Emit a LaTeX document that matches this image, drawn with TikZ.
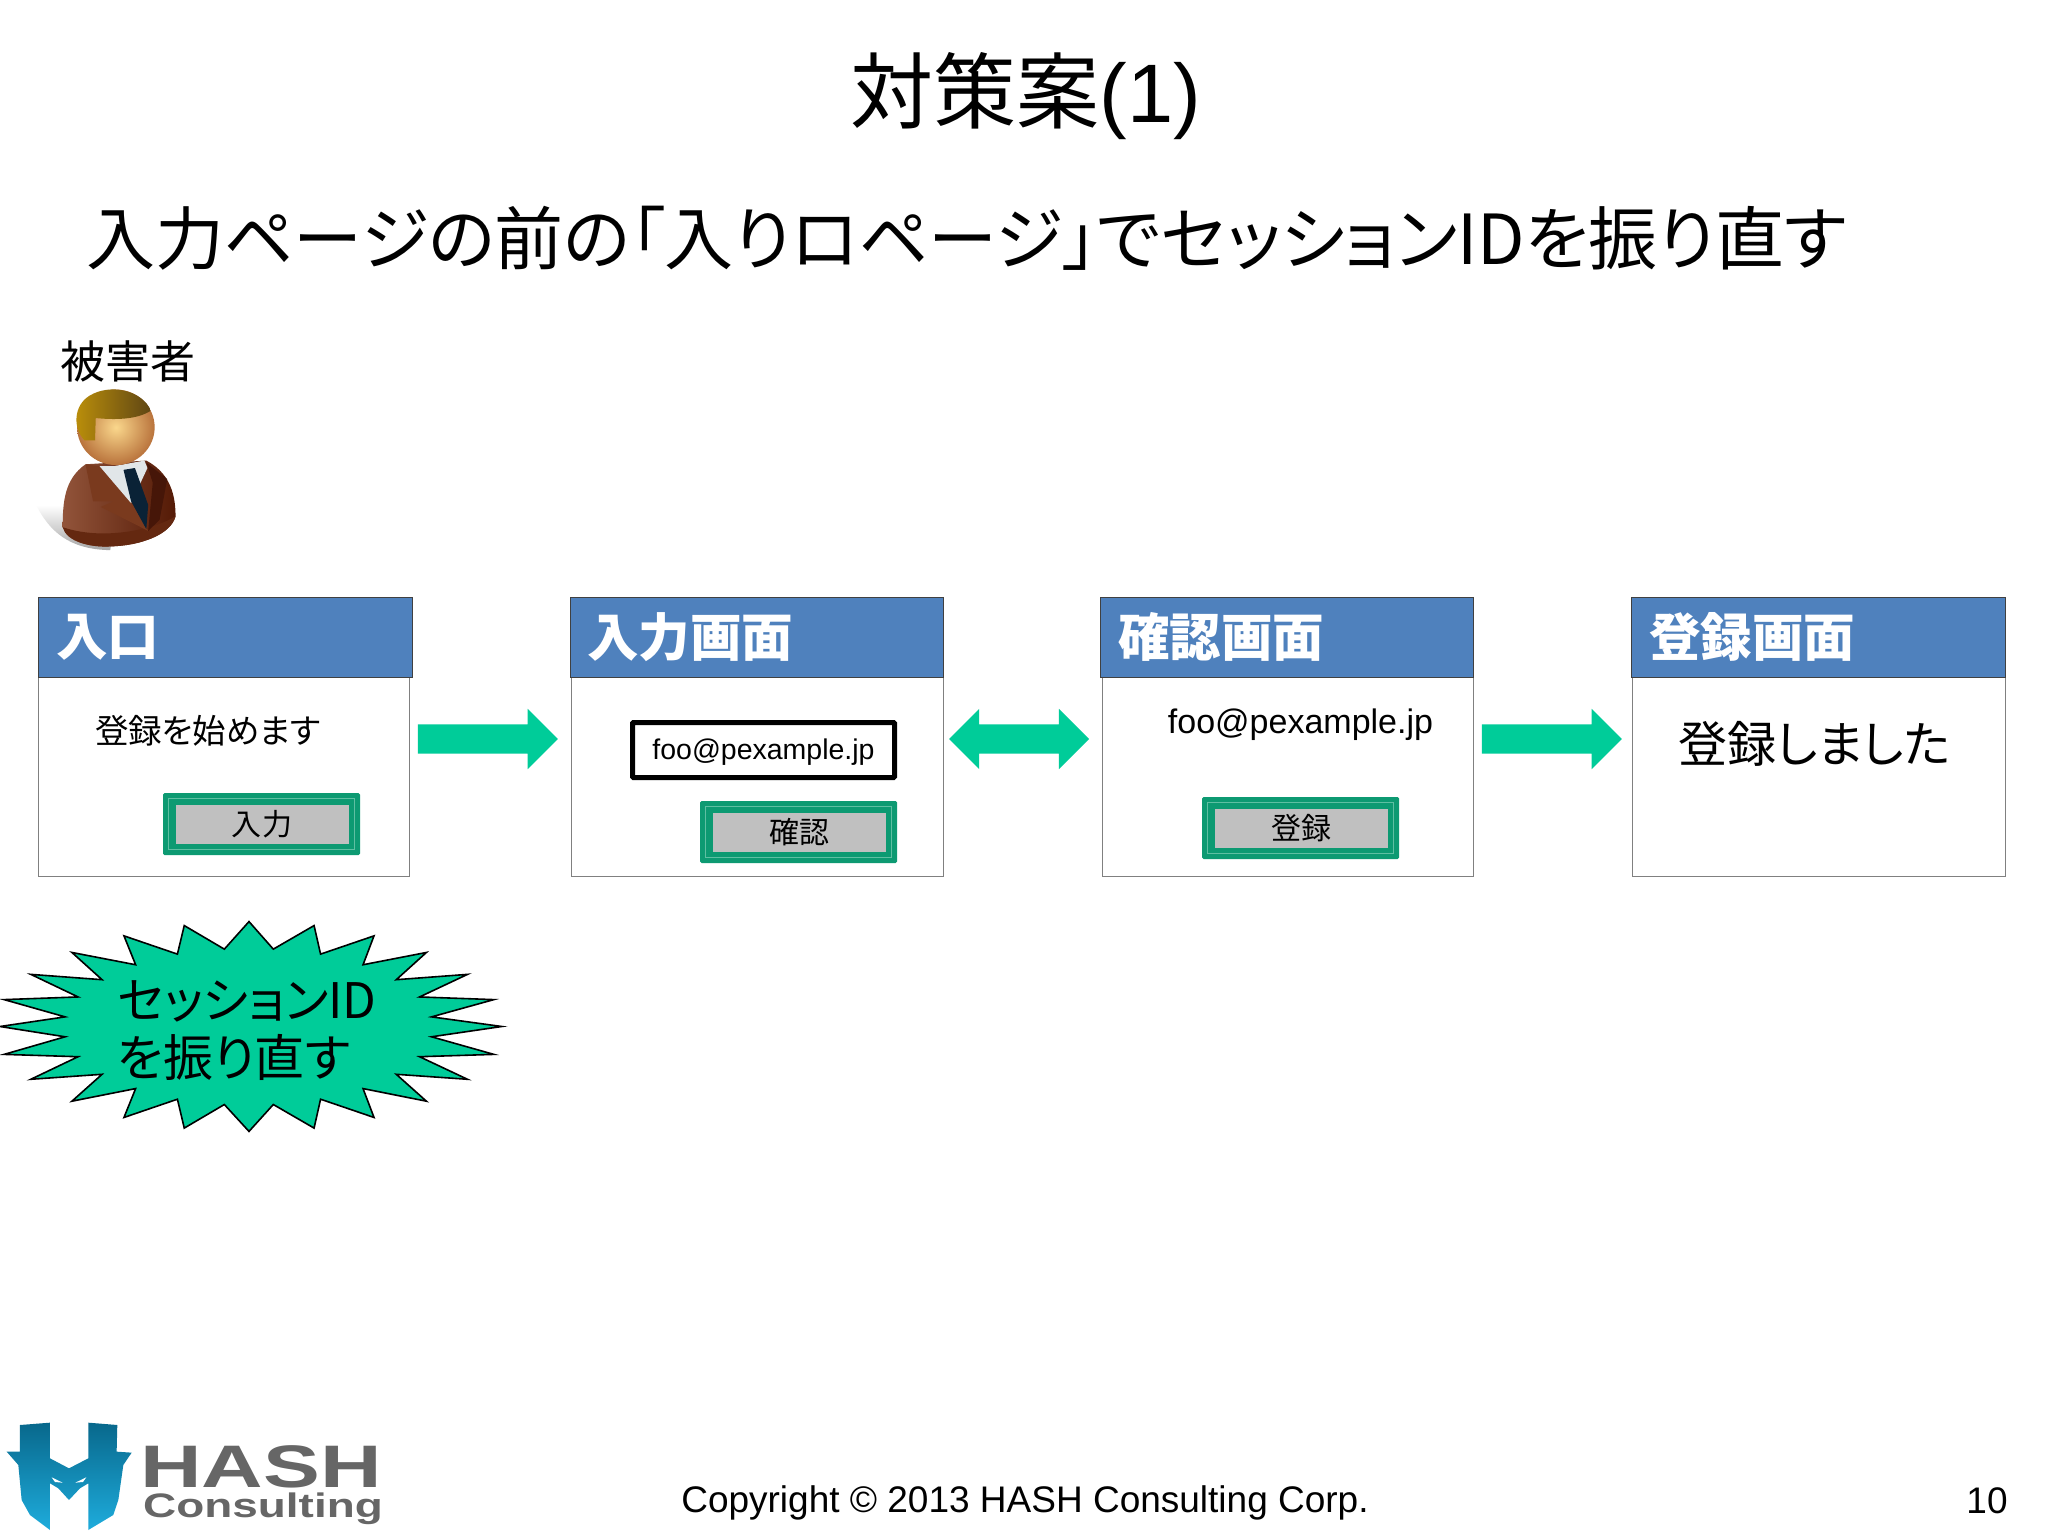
\documentclass[tikz,border=0pt]{standalone}
\usepackage{fontspec}
\usetikzlibrary{shapes.arrows,shadings}
\setmainfont{Liberation Sans}
\newfontfamily\jp[RawFeature={+palt}]{Noto Sans CJK JP}
\definecolor{hdr}{HTML}{4F81BD}
\definecolor{arrowgreen}{HTML}{00CC99}
\definecolor{btn}{HTML}{0D9A72}
\definecolor{btnline}{HTML}{5FBFA2}
\definecolor{btngray}{HTML}{C0C0C0}
\definecolor{framegray}{HTML}{808080}
\definecolor{logogray}{HTML}{666666}
\definecolor{suitL}{RGB}{146,84,58}
\definecolor{suitR}{RGB}{84,26,6}
\definecolor{suitB}{RGB}{100,40,16}
\definecolor{lapel}{RGB}{122,58,30}
\definecolor{shirt}{RGB}{225,230,232}
\definecolor{tie}{RGB}{10,34,54}
\definecolor{suitD}{RGB}{70,22,8}
\definecolor{skinI}{RGB}{250,215,140}
\definecolor{skinO}{RGB}{185,115,60}
\definecolor{hairL}{RGB}{190,145,10}
\definecolor{hairR}{RGB}{95,70,20}
\definecolor{logoT}{RGB}{8,104,140}
\definecolor{logoB}{RGB}{30,172,220}
\newcommand{\fs}[1]{\fontsize{#1}{#1}\selectfont}
\newcommand{\shaftstrut}{\rule{0pt}{29pt}}
\tikzset{
  x=1pt,y=-1pt,
  txt/.style={inner sep=0pt,outer sep=0pt,text=black},
  hdrbox/.style={draw=black!75,line width=1pt,fill=hdr,anchor=north west,minimum width=374pt,minimum height=80pt,inner sep=0pt},
  bodybox/.style={draw=framegray,line width=1.4pt,fill=white,anchor=north west,minimum width=372pt,minimum height=199pt,inner sep=0pt},
  hdrtxt/.style={inner sep=0pt,text=white,font=\jp\bfseries\fs{51.5},anchor=west},
  btnbox/.style={fill=btn,rounded corners=1.5pt,minimum width=197pt,minimum height=62pt,inner sep=0pt},
  btngrayin/.style={fill=btngray,minimum width=173pt,minimum height=39pt,inner sep=0pt},
  btntxt/.style={inner sep=0pt,text=black,font=\jp\fs{30}},
  rarrow/.style={single arrow,fill=arrowgreen,inner sep=0pt,outer sep=0pt,minimum height=140pt,single arrow head extend=15.5pt,single arrow tip angle=90,anchor=center},
  darrow/.style={double arrow,fill=arrowgreen,inner sep=0pt,outer sep=0pt,minimum height=140pt,double arrow head extend=15.5pt,double arrow tip angle=90,anchor=center},
}
\begin{document}
\begin{tikzpicture}
\useasboundingbox (0,0) rectangle (2048,1536);
\fill[white] (0,0) rectangle (2048,1536);

% titles
\node[txt,font=\fs{83}] (title) at (1026,96) {{\jp 対策案}(1)};
\node[txt,anchor=west,font=\fs{69}] (subtitle) at (86,238) {\jp 入力ページの前の「入りロページ」でセッションIDを振り直す};
\node[txt,font=\jp\fs{45}] (victim) at (128,361) {被害者};

% person
\begin{scope}[shift={(0,320)},xscale=0.38,yscale=0.37]
  \shade[top color=white,bottom color=black!35] (95,500) .. controls (130,570) and (180,620) .. (290,622) -- (300,560) -- (170,500) -- cycle;
  \shade[left color=suitL,right color=suitR] (225,390) .. controls (170,430) and (165,490) .. (165,560)
     .. controls (175,600) and (240,615) .. (290,612) .. controls (370,610) and (450,580) .. (462,530)
     .. controls (462,460) and (440,410) .. (385,380) -- cycle;
  \fill[suitB] (165,560) .. controls (175,600) and (240,615) .. (290,612) .. controls (370,610) and (450,580) .. (462,530) .. controls (420,560) and (280,600) .. (165,560) -- cycle;
  \fill[lapel] (225,390) -- (245,490) -- (300,490) -- (265,505) -- (390,570) -- (345,490) -- (262,395) -- cycle;
  \fill[shirt] (262,395) -- (345,495) -- (388,400) -- (380,380) -- (300,395) -- cycle;
  \fill[tie] (325,405) -- (355,400) -- (390,500) -- (385,565) -- (345,490) -- cycle;
  \fill[suitD] (385,385) -- (402,440) -- (390,570) -- (420,540) -- (440,430) -- cycle;
  \shade[inner color=skinI,outer color=skinO] (305,290) circle [radius=102];
  \shade[left color=hairL,right color=hairR] (222,325) .. controls (190,290) and (195,230) .. (235,205) .. controls (290,170) and (375,190) .. (397,245)
     .. controls (360,270) and (300,270) .. (252,265) -- (250,325) -- cycle;
\end{scope}

% windows
\node[bodybox,minimum width=371pt] (b1) at (38,677) {};
\node[bodybox,minimum width=372pt] (b2) at (571,677) {};
\node[bodybox,minimum width=371pt] (b3) at (1102,677) {};
\node[bodybox,minimum width=373pt] (b4) at (1632,677) {};
\node[hdrbox] (h1) at (38,597) {};
\node[hdrbox,minimum width=373pt] (h2) at (570,597) {};
\node[hdrbox,minimum width=373pt] (h3) at (1100,597) {};
\node[hdrbox,minimum width=374pt] (h4) at (1631,597) {};
\node[hdrtxt] (t1) at (56,637) {入口};
\node[hdrtxt] (t2) at (587,637) {入力画面};
\node[hdrtxt] (t3) at (1118,637) {確認画面};
\node[hdrtxt] (t4) at (1649,637) {登録画面};

% contents 1
\node[txt,anchor=west,font=\jp\fs{33.5}] (c1) at (95,731) {登録を始めます};
\node[btnbox] (bb1) at (261.5,824) {};
\draw[btnline,line width=0.8pt] ([shift={(6,-6)}]bb1.south west) rectangle ([shift={(-6,6)}]bb1.north east);
\node[btngrayin] (bg1) at (262,824) {};
\node[btntxt] (bt1) at (262,824) {入\hspace{2pt}力};

% contents 2
\node[draw=black,line width=5pt,fill=white,rounded corners=1pt,minimum width=262pt,minimum height=55pt,inner sep=0pt] (in2) at (763.5,750) {};
\node[txt,font=\fs{28.5}] (ft2) at (763.5,752) {foo@pexample.jp};
\node[btnbox] (bb2) at (798.5,832) {};
\draw[btnline,line width=0.8pt] ([shift={(6,-6)}]bb2.south west) rectangle ([shift={(-6,6)}]bb2.north east);
\node[btngrayin] (bg2) at (799,832) {};
\node[btntxt] (bt2) at (799,832) {確認};

% contents 3
\node[txt,font=\fs{34}] (ft3) at (1300.5,725) {foo@pexample.jp};
\node[btnbox] (bb3) at (1300.5,828) {};
\draw[btnline,line width=0.8pt] ([shift={(6,-6)}]bb3.south west) rectangle ([shift={(-6,6)}]bb3.north east);
\node[btngrayin] (bg3) at (1301,828) {};
\node[btntxt] (bt3) at (1301,828) {登録};

% contents 4
\node[txt,anchor=west,font=\jp\fs{49}] (c4) at (1678,744) {登録しました};

% block arrows
\node[rarrow] (a1) at (480.5,739) {\shaftstrut};
\node[darrow] (a2) at (1019,739) {\shaftstrut};
\node[rarrow] (a3) at (1544.5,739) {\shaftstrut};

% burst
\begin{scope}[shift={(0,900)},xscale=0.3425,yscale=0.332]
\draw[fill=arrowgreen,draw=black,line width=1.6pt,miter limit=20]
 (727,65)--(798,148)--(917,77)--(936,163)--(1092,108)--(1060,195)--(1245,158)--(1157,240)--(1365,224)--(1225,292)--(1442,300)--(1260,352)--(1465,381)--(1260,412)--(1442,465)--(1225,472)--(1365,540)--(1157,525)--(1245,606)--(1060,568)--(1092,655)--(936,600)--(917,687)--(798,616)--(727,697)--(655,616)--(538,687)--(518,600)--(362,655)--(396,568)--(210,606)--(298,525)--(90,540)--(228,472)--(12,465)--(190,412)--(0,381)--(190,352)--(12,300)--(228,292)--(90,224)--(298,240)--(210,158)--(396,195)--(362,108)--(518,163)--(538,77)--(655,148)--cycle;
\end{scope}
\node[txt,anchor=west,font=\jp\fs{49}] (bl1) at (118,1001) {セッションID};
\node[txt,anchor=west,font=\jp\fs{50}] (bl2) at (117,1057) {を振り直す};

% logo
\begin{scope}[shift={(0,1400)},scale=0.3333]
\shade[top color=logoT,bottom color=logoB]
 (60,75)--(150,68)--(150,175)--(207,205)--(265,175)--(265,68)--(352,75)--(350,155)--(395,158)--(370,195)--(355,300)--(340,345)--(265,390)--(265,250)--(240,265)--(207,300)--(175,265)--(150,250)--(150,390)--(90,345)--(65,300)--(55,195)--(20,155)--(60,155)--cycle;
\fill[white] (155,232)--(188,248)--(165,246)--cycle (259,232)--(226,248)--(249,246)--cycle;
\end{scope}
\node[inner sep=0pt,text=logogray,font=\bfseries\fs{60}] (hash) at (261,1467) {\scalebox{1.42}[1]{HASH}};
\node[inner sep=0pt,text=logogray,font=\bfseries\fs{34}] (cons) at (263,1509) {\scalebox{1.35}[1]{Consulting}};

% footer
\node[txt,font=\fs{37}] (copy) at (1025,1503) {Copyright © 2013 HASH Consulting Corp.};
\node[txt,font=\fs{37}] (page) at (1987,1500.5) {10};
\end{tikzpicture}
\end{document}
